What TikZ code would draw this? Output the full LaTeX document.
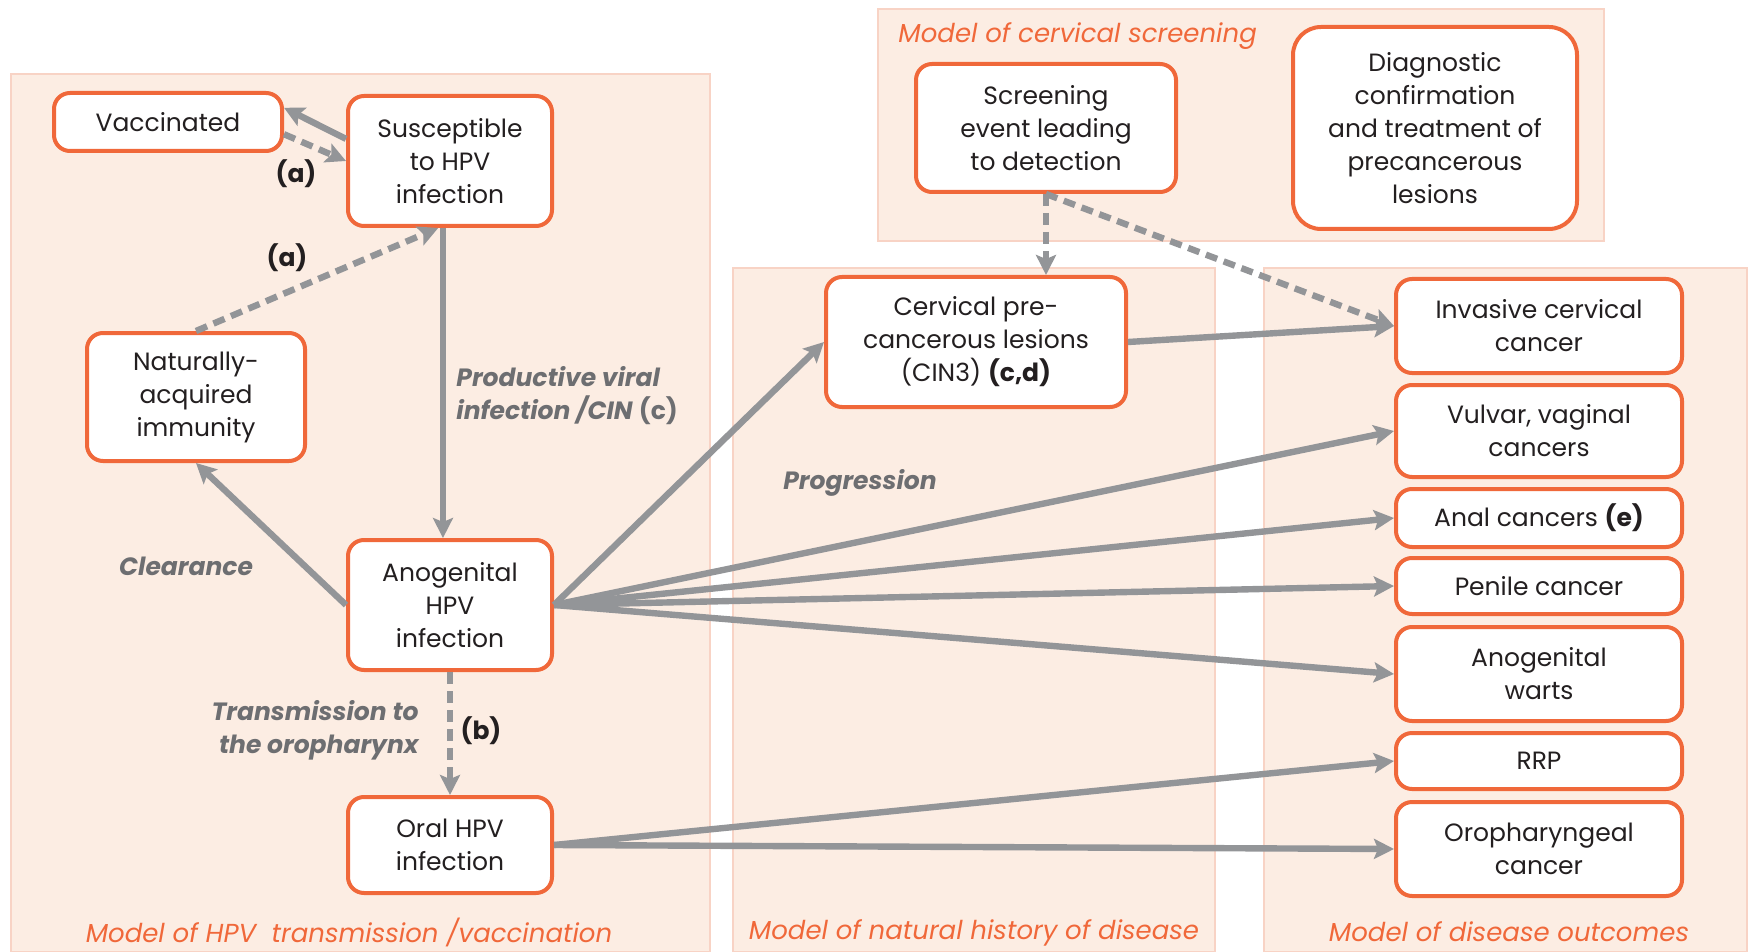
\documentclass[tikz,border=0pt]{standalone}
\usepackage{fontspec}
\setmainfont{Poppins}
\usetikzlibrary{arrows.meta}
\definecolor{panelfill}{HTML}{FCEDE3}
\definecolor{panelline}{HTML}{F8D3C5}
\definecolor{boxline}{HTML}{F0683A}
\definecolor{arrowgrey}{HTML}{939598}
\definecolor{labelgrey}{HTML}{6D6E71}
\definecolor{textdark}{HTML}{231F20}
\newcommand{\boxfont}{\fontsize{12.5}{16.5}\selectfont}
\tikzset{
  panel/.style={fill=panelfill, draw=panelline, line width=0.6pt},
  box/.style={draw=boxline, line width=2pt, rounded corners=8pt, fill=white,
    align=center, text=textdark, font=\boxfont, inner sep=2pt},
  flow/.style={draw=arrowgrey, line width=3.2pt, -{Stealth[length=10pt,width=10pt,inset=2pt]}},
  flowd/.style={flow, dash pattern=on 6pt off 3.5pt},
  lbl/.style={text=labelgrey, font=\boxfont\bfseries\itshape, inner sep=0pt},
  tag/.style={text=textdark, font=\boxfont\bfseries, inner sep=0pt},
  paneltitle/.style={text=boxline, font=\fontsize{13}{16}\selectfont\itshape, inner sep=0pt},
}

\begin{document}
\begin{tikzpicture}[x=0.5pt,y=-0.5pt]
  \useasboundingbox (0,0) rectangle (1750,952);
  % panels
  \path[panel] (11,74) rectangle (710,952);
  \path[panel] (733,268) rectangle (1215,952);
  \path[panel] (1264,268) rectangle (1747,952);
  \path[panel] (878,9) rectangle (1604,241);

  \node[paneltitle, anchor=west] (t1) at (898,36) {Model of cervical screening};
  \node[paneltitle] (t2) at (349,932) {Model of HPV\ \ transmission /vaccination};
  \node[paneltitle] (t3) at (974,933) {Model of natural history of disease};
  \node[paneltitle] (t4) at (1509,932) {Model of disease outcomes};

  % transmission / vaccination
  \node[box, minimum width=114pt, minimum height=29pt] (vacc) at (168,122) {Vaccinated};
  \node[box, minimum width=102pt, minimum height=65pt] (susc) at (450,161) {Susceptible\\to HPV\\infection};
  \node[box, minimum width=109pt, minimum height=64pt] (immu) at (196,397) {Naturally-\\acquired\\immunity};
  \node[box, minimum width=102pt, minimum height=65pt] (anog) at (450,605) {Anogenital\\HPV\\infection};
  \node[box, minimum width=102pt, minimum height=48pt] (oral) at (450,845) {Oral HPV\\infection};

  % screening
  \node[box, minimum width=130pt, minimum height=64pt] (screen) at (1046,128) {Screening\\event leading\\to detection};
  \node[box, minimum width=142pt, minimum height=101pt, rounded corners=14pt] (diag) at (1435,128) {Diagnostic\\confirmation\\and treatment of\\precancerous\\lesions};

  % natural history
  \node[box, minimum width=150pt, minimum height=65pt] (cin) at (976,342) {Cervical pre-\\cancerous lesions\\(CIN3) \textbf{(c,d)}};

  % outcomes
  \node[box, minimum width=143pt, minimum height=47pt] (inv) at (1539,326) {Invasive cervical\\cancer};
  \node[box, minimum width=143pt, minimum height=46pt] (vulv) at (1539,431) {Vulvar, vaginal\\cancers};
  \node[box, minimum width=143pt, minimum height=29pt] (anal) at (1539,518) {Anal cancers \textbf{(e)}};
  \node[box, minimum width=143pt, minimum height=28pt] (pen) at (1539,586) {Penile cancer};
  \node[box, minimum width=143pt, minimum height=47pt] (warts) at (1539,674) {Anogenital\\warts};
  \node[box, minimum width=143pt, minimum height=28pt] (rrp) at (1539,761) {RRP};
  \node[box, minimum width=143pt, minimum height=47pt] (oroph) at (1539,849) {Oropharyngeal\\cancer};

  % labels
  \node[tag] (la1) at (296,174) {(a)};
  \node[tag] (la2) at (287,258) {(a)};
  \node[lbl, anchor=west, align=left] (lprod) at (456,396) {Productive viral\\infection /CIN \textnormal{\bfseries(c)}};
  \node[lbl] (lclear) at (186,566) {Clearance};
  \node[lbl] (lprog) at (860,483) {Progression};
  \node[lbl, anchor=east, align=right] (ltrans) at (419,730) {Transmission to\\the oropharynx};
  \node[tag] (lb) at (481,731) {(b)};

  % connectors
  \draw[flow] (susc.168) -- (vacc.7);
  \draw[flowd] (vacc.-6) -- (susc.west);
  \draw[flowd] (immu.north) -- (susc.-100);
  \draw[flow] (susc.-96) -- (anog.96);
  \draw[flow] (anog.west) -- (immu.south);
  \draw[flowd] (anog.south) -- (oral.north);
  \draw[flow] (anog.east) -- (cin.west);
  \draw[flow] (anog.east) -- (vulv.west);
  \draw[flow] (anog.east) -- (anal.west);
  \draw[flow] (anog.east) -- (pen.west);
  \draw[flow] (anog.east) -- (warts.west);
  \draw[flow] (cin.east) -- (inv.west);
  \draw[flowd] (screen.south) -- (screen.south |- cin.north);
  \draw[flowd] (screen.south) -- (inv.west);
  \draw[flow] (oral.east) -- (rrp.west);
  \draw[flow] (oral.east) -- (oroph.west);
\end{tikzpicture}
\end{document}
